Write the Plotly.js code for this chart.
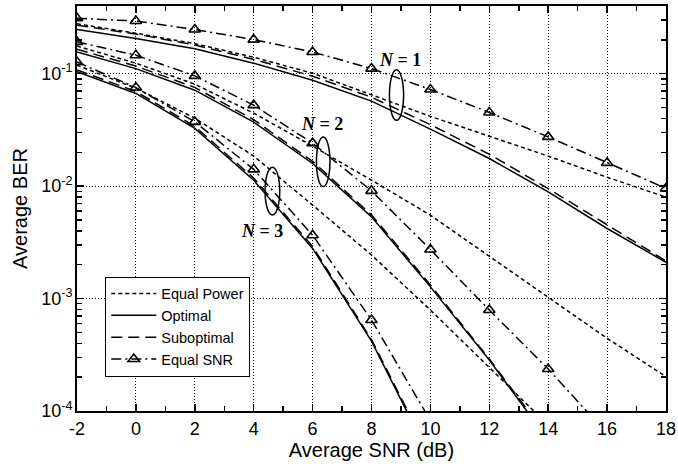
<!DOCTYPE html>
<html>
<head>
<meta charset="utf-8">
<script src="https://cdn.plot.ly/plotly-3.0.1.min.js"></script>
<style>html,body{margin:0;padding:0;background:#fff;}#chart{width:678px;height:466px;}</style>
</head>
<body>
<div id="chart"></div>
<script>
// Average SNR (dB)
const snr = [-2, 0, 2, 4, 6, 8, 10, 12, 14, 16, 18];

// N = 1
const eqPowerN1  = [0.278, 0.229, 0.185, 0.140, 0.101, 0.0644, 0.0417, 0.0278, 0.0185, 0.0120, 0.00798];
const optimalN1  = [0.247, 0.206, 0.167, 0.124, 0.0875, 0.057, 0.0321, 0.0176, 0.00889, 0.0042, 0.0021];
const subOptN1   = [0.270, 0.225, 0.180, 0.134, 0.095, 0.0618, 0.0352, 0.0192, 0.0095, 0.00452, 0.00216];
const eqSnrN1    = [0.311, 0.294, 0.247, 0.201, 0.156, 0.111, 0.0724, 0.0452, 0.0274, 0.0161, 0.00955];

// N = 2
const eqPowerN2  = [0.176, 0.124, 0.0807, 0.0446, 0.0227, 0.0113, 0.00552, 0.00239, 0.00104, 0.000443, 0.000202];
const optimalN2  = [0.156, 0.111, 0.0713, 0.0371, 0.0159, 0.00533, 0.00127, 0.000284, 0.000055, null, null];
const subOptN2   = [0.165, 0.117, 0.0755, 0.0390, 0.0166, 0.00555, 0.00132, 0.000290, 0.000058, null, null];
const eqSnrN2    = [0.192, 0.146, 0.0956, 0.0525, 0.0241, 0.00908, 0.00273, 0.00079, 0.000236, 0.000063, null];

// N = 3
const eqPowerN3  = [0.119, 0.0743, 0.0402, 0.0185, 0.00678, 0.00244, 0.000791, 0.000246, 0.000075, null, null];
const optimalN3  = [0.104, 0.0667, 0.0326, 0.0113, 0.00279, 0.000419, 0.000038, null, null, null, null];
const subOptN3   = [0.108, 0.0695, 0.0340, 0.0118, 0.00290, 0.000432, 0.000040, null, null, null, null];
const eqSnrN3    = [0.127, 0.0753, 0.0373, 0.0141, 0.00366, 0.000644, 0.000082, null, null, null, null];

const seriesNames = ['Equal Power', 'Optimal', 'Suboptimal', 'Equal SNR'];
const xTicks = [-2, 0, 2, 4, 6, 8, 10, 12, 14, 16, 18];
const xTickText = ['-2', '0', '2', '4', '6', '8', '10', '12', '14', '16', '18'];
const yTickVals = [1e-4, 1e-3, 1e-2, 1e-1];
const yTickText = ['10<sup>-4</sup>', '10<sup>-3</sup>', '10<sup>-2</sup>', '10<sup>-1</sup>'];

const groupLabels = ['<b><i>N</i> = 1</b>', '<b><i>N</i> = 2</b>', '<b><i>N</i> = 3</b>'];
</script>
<script>
const YMIN = -4, YMAX = Math.log10(0.4);
const styles = {
  'Equal Power': {dash: '4px,3px', marker: false},
  'Optimal': {dash: 'solid', marker: false},
  'Suboptimal': {dash: '11px,6px', marker: false},
  'Equal SNR': {dash: '10px,4px,2px,4px', marker: true}
};
const groups = [
  [eqPowerN1, optimalN1, subOptN1, eqSnrN1],
  [eqPowerN2, optimalN2, subOptN2, eqSnrN2],
  [eqPowerN3, optimalN3, subOptN3, eqSnrN3]
];
const traces = [];
groups.forEach((g, gi) => {
  g.forEach((ys, si) => {
    const name = seriesNames[si];
    const st = styles[name];
    const tr = {
      x: snr, y: ys, type: 'scatter',
      mode: st.marker ? 'lines+markers' : 'lines',
      name: name,
      showlegend: gi === 0,
      legendrank: si + 1,
      line: {color: '#000', width: 1.5, dash: st.dash},
      connectgaps: false,
      cliponaxis: true
    };
    if (st.marker) {
      tr.marker = {symbol: 'triangle-up-open', size: 10, color: '#000', line: {width: 1.6, color: '#000'}};
    }
    traces.push(tr);
  });
});

function paperY(logv) { return (logv - YMIN) / (YMAX - YMIN); }
const ellipses = [
  {x: 8.85, logy: -1.19, rx: 0.24, ry: 0.225},
  {x: 6.36, logy: -1.784, rx: 0.23, ry: 0.22},
  {x: 4.635, logy: -2.044, rx: 0.25, ry: 0.213}
];
const labelPos = [
  {x: 8.96, logy: -0.88},
  {x: 6.31, logy: -1.449},
  {x: 4.27, logy: -2.397}
];
const shapes = ellipses.map(e => ({
  type: 'circle', xref: 'x', yref: 'paper',
  x0: e.x - e.rx, x1: e.x + e.rx,
  y0: paperY(e.logy - e.ry), y1: paperY(e.logy + e.ry),
  line: {color: '#000', width: 1.5}
}));
const annotations = labelPos.map((p, i) => ({
  x: p.x, y: p.logy, xref: 'x', yref: 'y', text: groupLabels[i], showarrow: false,
  font: {family: 'Liberation Serif, Times New Roman, serif', size: 18, color: '#000'}
}));

const ff = 'Liberation Sans, Arial, sans-serif';
const layout = {
  width: 678, height: 466,
  margin: {l: 77, r: 12, t: 6, b: 55},
  paper_bgcolor: '#fff', plot_bgcolor: '#fff',
  font: {family: ff, color: '#000'},
  showlegend: true,
  legend: {
    x: 0.048, y: 0.332, xanchor: 'left', yanchor: 'top',
    bordercolor: '#000', borderwidth: 1, bgcolor: '#fff',
    font: {family: ff, size: 14.5, color: '#000'},
    tracegroupgap: 0, itemwidth: 45
  },
  xaxis: {
    range: [-2, 18], tickmode: 'array', tickvals: xTicks, ticktext: xTickText,
    ticks: 'inside', ticklen: 7, tickwidth: 1.5, tickcolor: '#000',
    showline: true, linecolor: '#000', linewidth: 2, mirror: 'ticks',
    showgrid: true, gridcolor: '#000', griddash: '1px,2px', gridwidth: 1,
    zeroline: false,
    tickfont: {size: 18, family: ff, color: '#000'},
    title: {text: 'Average SNR (dB)', font: {size: 20, family: ff, color: '#000'}, standoff: 2},
    minor: {dtick: 1, ticks: 'inside', ticklen: 5, tickwidth: 1.5, tickcolor: '#000', showgrid: false}
  },
  yaxis: {
    type: 'log', range: [YMIN, YMAX],
    tickmode: 'array', tickvals: yTickVals, ticktext: yTickText,
    ticks: 'inside', ticklen: 7, tickwidth: 1.5, tickcolor: '#000',
    showline: true, linecolor: '#000', linewidth: 2, mirror: 'ticks',
    showgrid: true, gridcolor: '#000', griddash: '1px,2px', gridwidth: 1,
    zeroline: false,
    tickfont: {size: 18, family: ff, color: '#000'},
    ticklabelstandoff: -1,
    title: {text: 'Average BER', font: {size: 20, family: ff, color: '#000'}, standoff: 8},
    minor: {dtick: 'D1', ticks: 'inside', ticklen: 5, tickwidth: 1.5, tickcolor: '#000', showgrid: false}
  },
  shapes: shapes,
  annotations: annotations
};
Plotly.newPlot('chart', traces, layout, {displayModeBar: false, staticPlot: true});
</script>
</body>
</html>
